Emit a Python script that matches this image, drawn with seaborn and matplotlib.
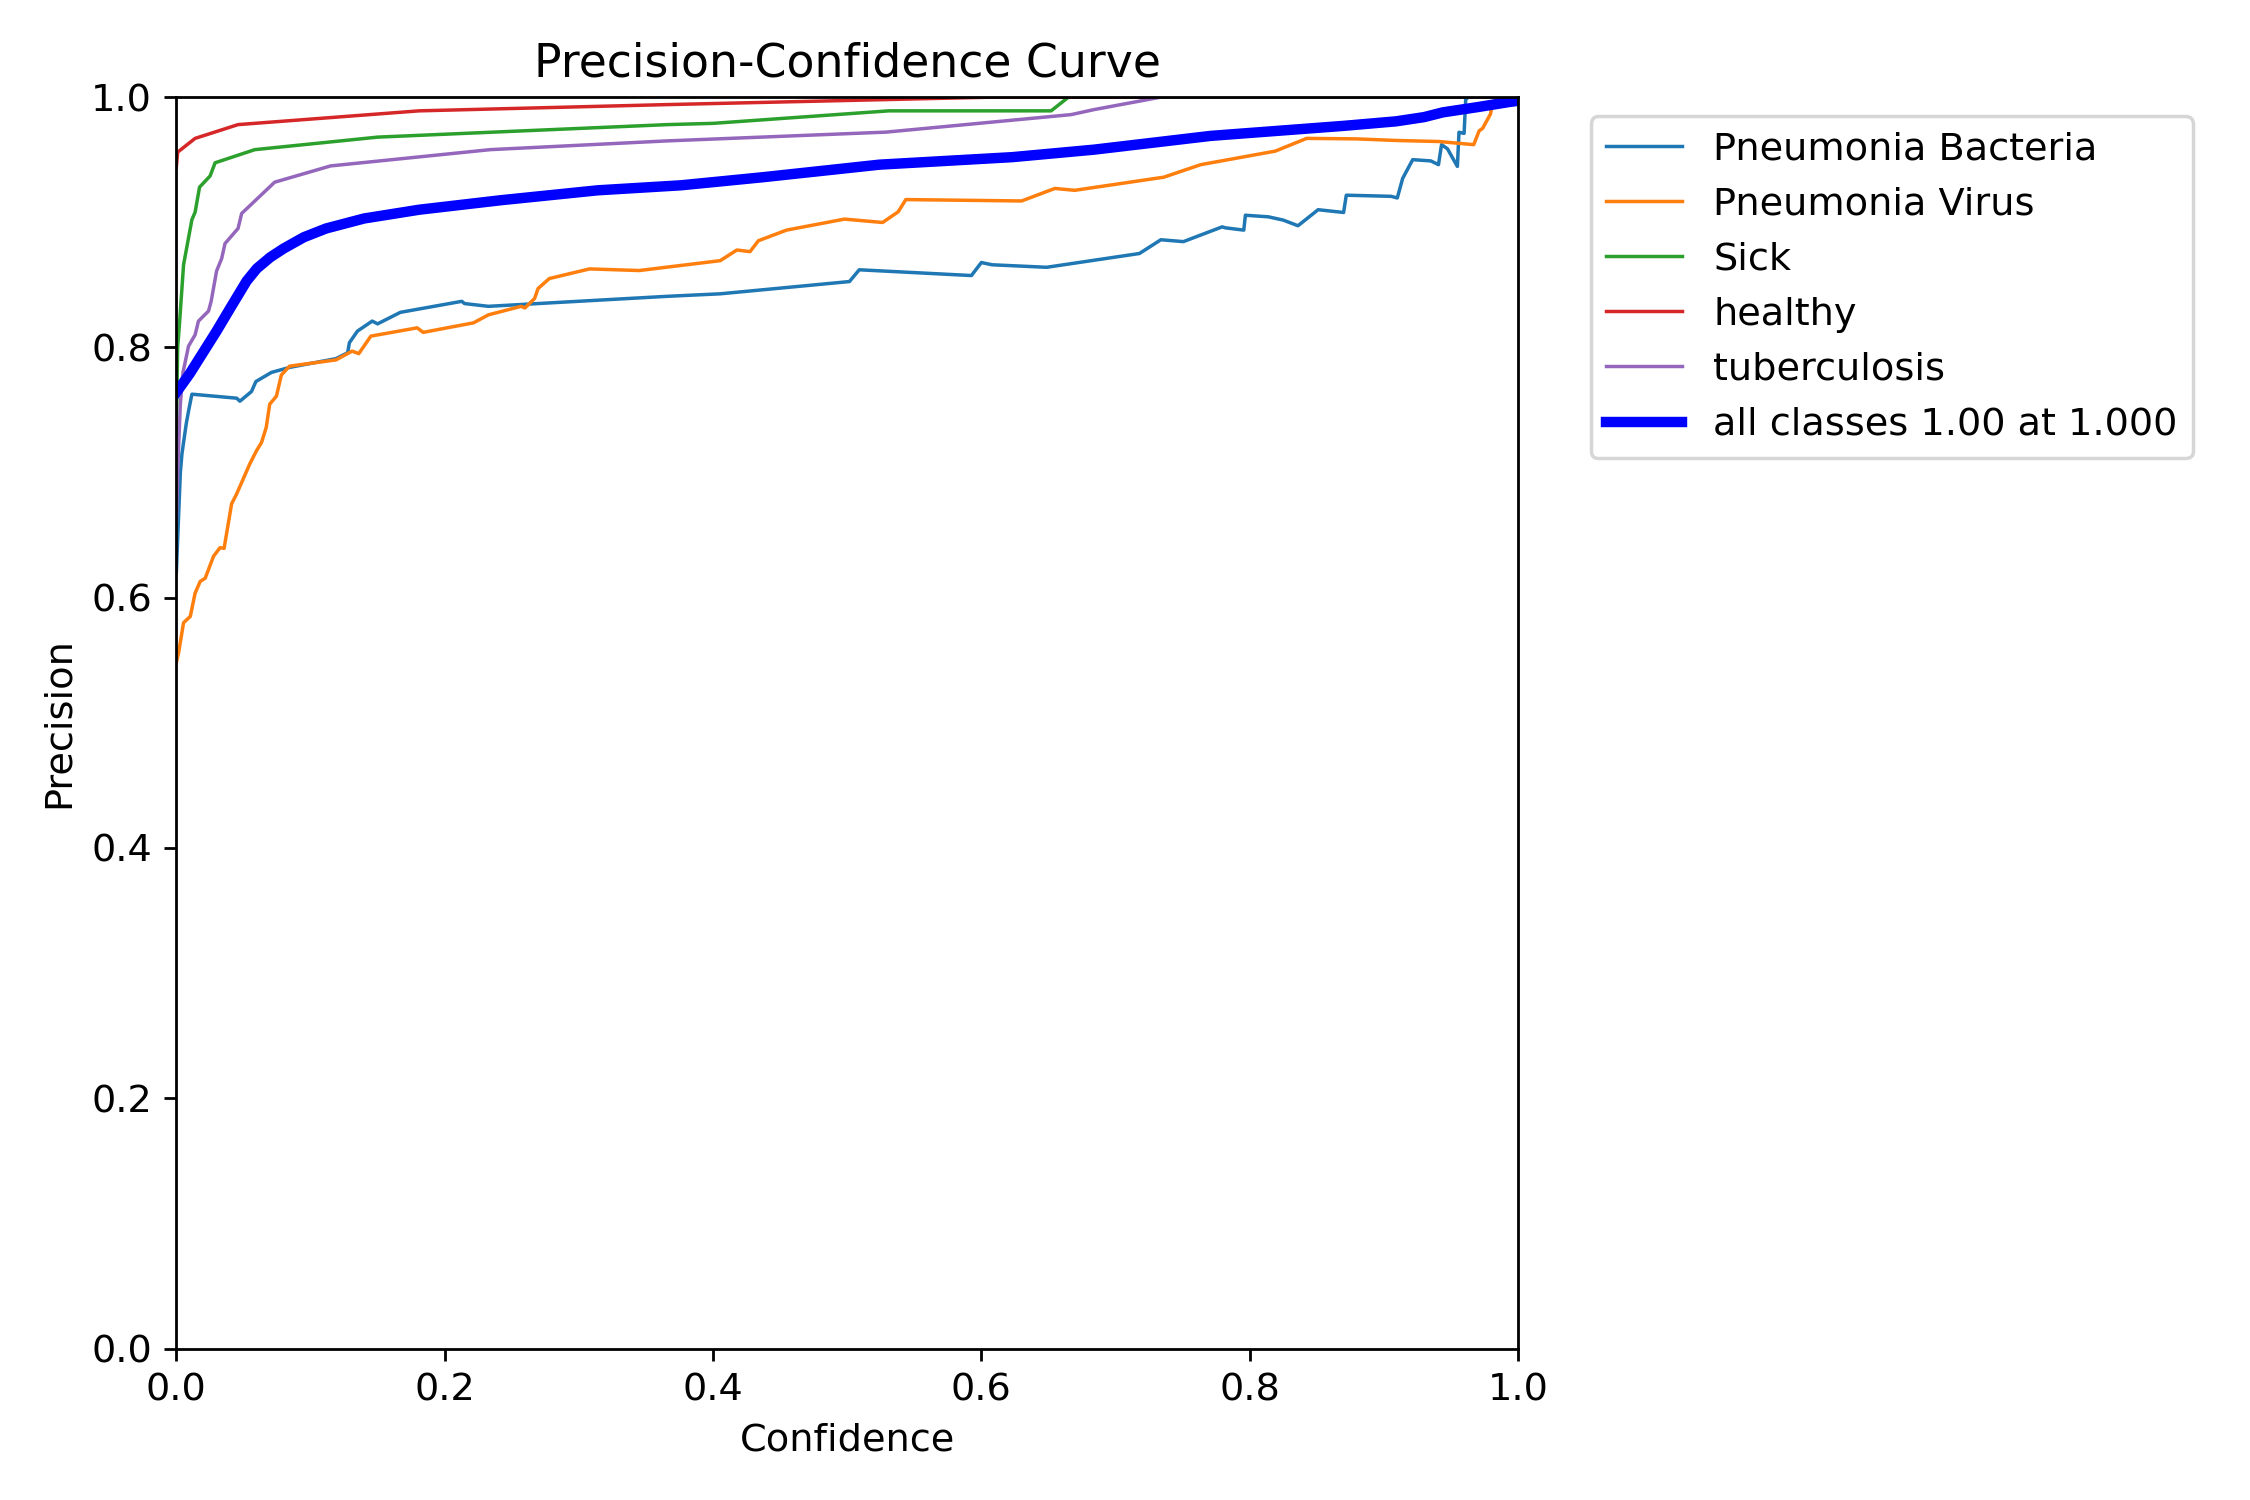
import matplotlib
matplotlib.use("Agg")
import matplotlib.pyplot as plt
import seaborn as sns
import pandas as pd

bact_x = [0.0, 0.003, 0.0042, 0.0074, 0.0091, 0.0116, 0.045, 0.0474, 0.056, 0.0593, 0.0709, 0.0844,
          0.119, 0.1277, 0.129, 0.135, 0.146, 0.150, 0.167, 0.2128, 0.2148, 0.2326, 0.366, 0.4054,
          0.5017, 0.509, 0.5926, 0.600, 0.608, 0.6487, 0.7178, 0.7338, 0.7506, 0.7795, 0.782, 0.7956,
          0.7968, 0.814, 0.825, 0.836, 0.851, 0.870, 0.872, 0.9054, 0.910, 0.914, 0.9215, 0.935,
          0.9407, 0.943, 0.9474, 0.9548, 0.956, 0.9598, 0.961, 0.963, 1.0]
bact_y = [0.62, 0.70, 0.715, 0.739, 0.749, 0.7626, 0.7594, 0.757, 0.7647, 0.7727, 0.780, 0.784,
          0.791, 0.7957, 0.8037, 0.813, 0.821, 0.8188, 0.828, 0.8368, 0.835, 0.8328, 0.8408, 0.8428,
          0.8526, 0.862, 0.8574, 0.8678, 0.866, 0.864, 0.875, 0.886, 0.8845, 0.8963, 0.8955, 0.8937,
          0.9056, 0.9043, 0.9017, 0.8972, 0.910, 0.9078, 0.9216, 0.9207, 0.9194, 0.935, 0.950, 0.949,
          0.946, 0.962, 0.9587, 0.9446, 0.9719, 0.971, 0.998, 1.0, 1.0]

virus_x = [0.0, 0.0017, 0.0054, 0.0104, 0.014, 0.0178, 0.0215, 0.0277, 0.0326, 0.0356, 0.0412, 0.045,
           0.0548, 0.0598, 0.0635, 0.067, 0.0696, 0.0746, 0.0783, 0.0844, 0.119, 0.131, 0.136, 0.145,
           0.1795, 0.184, 0.2215, 0.2326, 0.257, 0.2598, 0.267, 0.2696, 0.278, 0.308, 0.345, 0.4054,
           0.4178, 0.4276, 0.4338, 0.4548, 0.498, 0.5264, 0.538, 0.5437, 0.630, 0.6548, 0.6696, 0.736,
           0.7635, 0.819, 0.8425, 0.8795, 0.910, 0.941, 0.967, 0.971, 0.9736, 0.9795, 0.981, 0.984, 1.0]
virus_y = [0.548, 0.556, 0.580, 0.585, 0.6036, 0.613, 0.6155, 0.633, 0.640, 0.6394, 0.675, 0.683,
           0.707, 0.7175, 0.724, 0.736, 0.7546, 0.761, 0.778, 0.785, 0.790, 0.797, 0.795, 0.809,
           0.8156, 0.812, 0.8196, 0.826, 0.8328, 0.8315, 0.839, 0.847, 0.855, 0.8627, 0.8614, 0.8693,
           0.8778, 0.8765, 0.8852, 0.8937, 0.9025, 0.8998, 0.9083, 0.9181, 0.917, 0.927, 0.9255, 0.936,
           0.946, 0.9568, 0.967, 0.9666, 0.9653, 0.9645, 0.962, 0.973, 0.975, 0.9865, 0.9955, 1.0, 1.0]

sick_x = [0.0, 0.001, 0.0025, 0.0054, 0.0116, 0.014, 0.0173, 0.0252, 0.0289, 0.0585, 0.150, 0.366,
          0.4, 0.531, 0.652, 0.665, 1.0]
sick_y = [0.73, 0.80, 0.821, 0.866, 0.902, 0.908, 0.928, 0.937, 0.9475, 0.958, 0.968, 0.978,
          0.979, 0.989, 0.989, 1.0, 1.0]

healthy_x = [0.0, 0.001, 0.014, 0.046, 0.181, 0.366, 0.61, 1.0]
healthy_y = [0.944, 0.956, 0.967, 0.978, 0.989, 0.994, 1.0, 1.0]

tb_x = [0.0, 0.0015, 0.003, 0.005, 0.0091, 0.014, 0.0165, 0.024, 0.026, 0.030, 0.0338, 0.0363, 0.046,
        0.0487, 0.0733, 0.115, 0.234, 0.366, 0.529, 0.667, 0.684, 0.734, 1.0]
tb_y = [0.66, 0.715, 0.755, 0.78, 0.801, 0.810, 0.821, 0.829, 0.837, 0.861, 0.871, 0.883, 0.895,
        0.907, 0.932, 0.945, 0.958, 0.965, 0.972, 0.986, 0.990, 1.0, 1.0]

all_x = [0.0, 0.01, 0.02, 0.03, 0.04, 0.0524, 0.06, 0.07, 0.08, 0.095, 0.1116, 0.14, 0.181, 0.242,
         0.314, 0.376, 0.4375, 0.524, 0.623, 0.684, 0.771, 0.870, 0.909, 0.93, 0.944, 0.97, 0.993, 1.0]
all_y = [0.764, 0.779, 0.796, 0.813, 0.831, 0.853, 0.863, 0.872, 0.879, 0.888, 0.895, 0.903, 0.910,
         0.9176, 0.9255, 0.9295, 0.936, 0.946, 0.952, 0.958, 0.969, 0.977, 0.9806, 0.984, 0.9878,
         0.992, 0.996, 0.997]

classes = ['Pneumonia Bacteria', 'Pneumonia Virus', 'Sick', 'healthy', 'tuberculosis']
xs = [bact_x, virus_x, sick_x, healthy_x, tb_x]
ys = [bact_y, virus_y, sick_y, healthy_y, tb_y]
cores = ['#1f77b4', '#ff7f0e', '#2ca02c', '#d62728', '#9467bd']

plt.rcParams['font.size'] = 11

fig, ax = plt.subplots(1, 1, figsize=(9, 6), tight_layout=True)

for nome, x, y, cor in zip(classes, xs, ys, cores):
    df = pd.DataFrame({'Confidence': x, 'Precision': y})
    sns.lineplot(data=df, x='Confidence', y='Precision', ax=ax, color=cor, linewidth=1,
                 label=nome, estimator=None, sort=False)

df_all = pd.DataFrame({'Confidence': all_x, 'Precision': all_y})
sns.lineplot(data=df_all, x='Confidence', y='Precision', ax=ax, color='blue', linewidth=3,
             label='all classes 1.00 at 1.000', estimator=None, sort=False)

ax.set_xlabel('Confidence')
ax.set_ylabel('Precision')
ax.set_xlim(0, 1)
ax.set_ylim(0, 1)
ax.legend(bbox_to_anchor=(1.04, 1), loc='upper left')
ax.set_title('Precision-Confidence Curve')
fig.savefig('out.png', dpi=250)
